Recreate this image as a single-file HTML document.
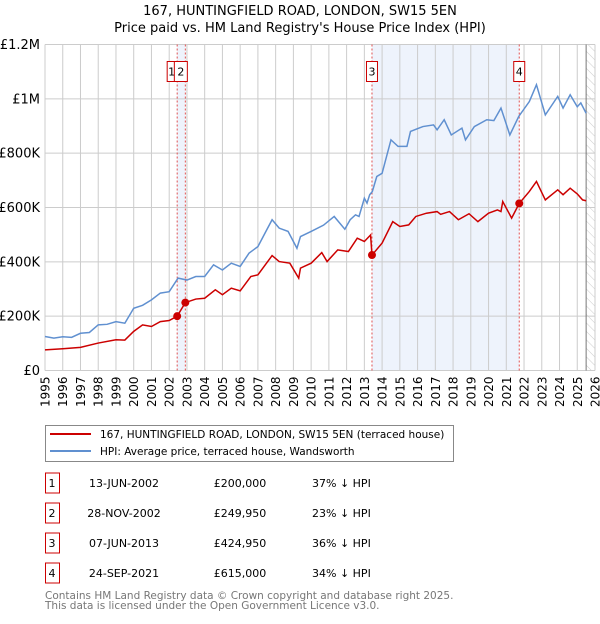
<!DOCTYPE html>
<html><head><meta charset="utf-8"><style>
body{margin:0;background:#fff;font-family:"DejaVu Sans","Liberation Sans",sans-serif;}
svg text{font-family:"DejaVu Sans","Liberation Sans",sans-serif;}
</style></head><body>
<svg id="c" width="600" height="620" xmlns="http://www.w3.org/2000/svg">
<defs><pattern id="hatch" width="6" height="6" patternUnits="userSpaceOnUse" patternTransform="rotate(-45)"><line x1="0" y1="0" x2="0" y2="6" stroke="#ccc" stroke-width="1"/></pattern></defs>
<text x="300" y="15" text-anchor="middle" font-size="13">167, HUNTINGFIELD ROAD, LONDON, SW15 5EN</text>
<text x="300" y="32" text-anchor="middle" font-size="13">Price paid vs. HM Land Registry's House Price Index (HPI)</text>
<g id="plot"></g>
<g id="legend">
<rect x="45.5" y="425.5" width="408" height="36" fill="#fff" stroke="#888"/>
<line x1="50" y1="434" x2="91" y2="434" stroke="#cc0000" stroke-width="2"/>
<text x="100" y="438" font-size="10.5">167, HUNTINGFIELD ROAD, LONDON, SW15 5EN (terraced house)</text>
<line x1="50" y1="451" x2="91" y2="451" stroke="#6090d0" stroke-width="2"/>
<text x="100" y="455" font-size="10.5">HPI: Average price, terraced house, Wandsworth</text>
</g>
<g id="table" font-size="11"></g>
<text x="45" y="599" font-size="10.5" fill="#777">Contains HM Land Registry data © Crown copyright and database right 2025.</text>
<text x="45" y="609" font-size="10.5" fill="#777">This data is licensed under the Open Government Licence v3.0.</text>
</svg>
<script>
const yTicks=[0,200000,400000,600000,800000,1000000,1200000];
const yTickLabels=["£0","£200K","£400K","£600K","£800K","£1M","£1.2M"];
const years=[1995,1996,1997,1998,1999,2000,2001,2002,2003,2004,2005,2006,2007,2008,2009,2010,2011,2012,2013,2014,2015,2016,2017,2018,2019,2020,2021,2022,2023,2024,2025,2026];
const hpiT=[1995,1995.5,1996,1996.5,1997,1997.5,1998,1998.5,1999,1999.5,2000,2000.5,2001,2001.5,2002,2002.5,2003,2003.5,2004,2004.5,2005,2005.5,2006,2006.5,2007,2007.5,2007.8,2008.2,2008.7,2009.2,2009.4,2010,2010.7,2011.3,2011.9,2012.2,2012.5,2012.7,2013.0,2013.15,2013.3,2013.45,2013.7,2014.0,2014.5,2014.9,2015.4,2015.6,2016.3,2016.9,2017.1,2017.5,2017.9,2018.5,2018.7,2019.2,2019.9,2020.3,2020.7,2021.2,2021.7,2022.3,2022.7,2023.2,2023.9,2024.2,2024.6,2025.0,2025.2,2025.5];
const hpiV=[125000,119000,124000,122000,137000,140000,168000,170000,180000,174000,229000,240000,260000,285000,290000,340000,333000,346000,346000,389000,370000,395000,383000,432000,456000,518000,555000,524000,512000,450000,493000,512000,535000,567000,520000,555000,573000,567000,634000,616000,647000,659000,714000,726000,849000,825000,825000,880000,898000,904000,886000,923000,867000,892000,849000,898000,923000,920000,966000,867000,935000,990000,1052000,941000,1009000,966000,1015000,971000,985000,947000];
const priceT=[1995,1996,1997,1998,1999,1999.5,2000,2000.5,2001,2001.5,2002,2002.45,2002.91,2003.5,2004,2004.6,2005,2005.5,2006,2006.6,2007,2007.8,2008.2,2008.8,2009.3,2009.4,2010,2010.6,2010.9,2011.5,2012.1,2012.6,2013.0,2013.35,2013.43,2014.0,2014.6,2015.0,2015.5,2015.9,2016.5,2017.1,2017.3,2017.8,2018.3,2018.9,2019.4,2020.0,2020.5,2020.7,2020.8,2021.3,2021.73,2022.3,2022.7,2023.2,2023.9,2024.2,2024.6,2025.0,2025.3,2025.5];
const priceV=[76000,80000,85000,101000,113000,112000,144000,168000,162000,180000,184000,200000,249950,263000,266000,297000,279000,303000,293000,346000,352000,423000,401000,395000,340000,377000,395000,434000,401000,444000,438000,487000,475000,499000,424950,469000,548000,530000,536000,567000,579000,585000,575000,585000,555000,577000,548000,579000,591000,585000,622000,561000,615000,659000,696000,628000,665000,647000,671000,650000,628000,625000];
const saleT=[2002.45,2002.91,2013.43,2021.73];
const saleV=[200000,249950,424950,615000];
const saleIds=["1","2","3","4"];
const saleDates=["13-JUN-2002","28-NOV-2002","07-JUN-2013","24-SEP-2021"];
const salePrices=["£200,000","£249,950","£424,950","£615,000"];
const salePcts=["37% ↓ HPI","23% ↓ HPI","36% ↓ HPI","34% ↓ HPI"];

const NS="http://www.w3.org/2000/svg";
const L=45,R=595,T=44.5,B=370.5;
const x=t=>L+(t-1995)/(2026-1995)*(R-L);
const y=v=>B-v/1200000*(B-T);
function mk(p,tag,a){const e=document.createElementNS(NS,tag);for(const k in a)e.setAttribute(k,a[k]);p.appendChild(e);return e;}
const g=document.getElementById('plot');
let s1=mk(g,'rect',{x:x(saleT[0]),y:T,width:x(saleT[1])-x(saleT[0]),height:B-T,fill:'#eef3fc'});


let s2=mk(g,'rect',{x:x(saleT[2]),y:T,width:x(saleT[3])-x(saleT[2]),height:B-T,fill:'#eef3fc'});


let hx=x(2025.5);
let h=mk(g,'rect',{x:hx,y:T,width:R-hx,height:B-T,fill:'url(#hatch)'});


years.forEach(yr=>{
 let l=mk(g,'line',{x1:x(yr),x2:x(yr),y1:T,y2:B,stroke:'#ccc','stroke-width':1});
 
 
 let t=mk(g,'text',{x:0,y:0,'font-size':12,'text-anchor':'end',transform:`translate(${x(yr)+4.5},${B+6}) rotate(-90)`});
 t.textContent=yr;
 
 
});
yTicks.forEach((v,i)=>{
 let l=mk(g,'line',{x1:L,x2:R,y1:y(v),y2:y(v),stroke:'#ccc','stroke-width':1});
 
 
 let t=mk(g,'text',{x:L-5,y:y(v)+4.5,'font-size':13,'text-anchor':'end'});
 t.textContent=yTickLabels[i];
 
 
});
let el=mk(g,'line',{x1:hx,x2:hx,y1:T,y2:B,stroke:'#777','stroke-width':1});


saleT.forEach((t,i)=>{
 let l=mk(g,'line',{x1:x(t),x2:x(t),y1:T,y2:B,stroke:'#e05050','stroke-width':1,'stroke-dasharray':'2,2'});
 
 
});
let hp=mk(g,'polyline',{points:hpiT.map((t,i)=>x(t)+','+y(hpiV[i])).join(' '),fill:'none',stroke:'#6090d0','stroke-width':1.5});


let pp=mk(g,'polyline',{points:priceT.map((t,i)=>x(t)+','+y(priceV[i])).join(' '),fill:'none',stroke:'#cc0000','stroke-width':1.5});


saleT.forEach((t,i)=>{
 let c=mk(g,'circle',{cx:x(t),cy:y(saleV[i]),r:4,fill:'#cc0000'});
 
 
 let bx=x(t)-5.5, bw=11;
 if(i===0){bx=x(t)-10;bw=9;}
 if(i===1){bx=x(t)-11;bw=13;}
 let r=mk(g,'rect',{x:bx,y:61.5,width:bw,height:20,fill:'#fff',stroke:'#cc0000','stroke-width':1});
 
 
 let tx=mk(g,'text',{x:bx+bw/2,y:75.5,'font-size':11,'text-anchor':'middle'});
 tx.textContent=saleIds[i];
 
 
});
const tb=document.getElementById('table');
saleIds.forEach((id,i)=>{
 const cy=483+i*30;
 let r=mk(tb,'rect',{x:45.5,y:cy-10,width:14,height:20,fill:'#fff',stroke:'#cc0000'});
 
 
 const cells=[[52,id,'middle'],[124,saleDates[i],'middle'],[240,salePrices[i],'middle'],[312,salePcts[i],'start']];
 cells.forEach(c=>{
  let t=mk(tb,'text',{x:c[0],y:cy+4,'text-anchor':c[2],'font-size':11});
  t.textContent=c[1];
  
  
 });
});
</script>
</body></html>
